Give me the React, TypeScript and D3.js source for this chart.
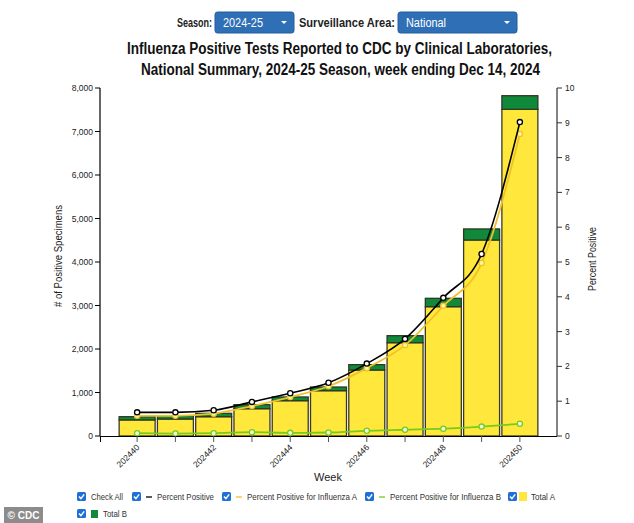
import * as d3 from "d3";

// week labels and counts
const weeks = ["202440", "202441", "202442", "202443", "202444", "202445", "202446", "202447", "202448", "202449", "202450"];
const totalA = [370, 391, 444, 628, 812, 1042, 1517, 2145, 2973, 4506, 7510];
const totalB = [74, 76, 77, 92, 85, 84, 123, 161, 192, 254, 313];
const pctPositive = [0.68, 0.68, 0.74, 0.98, 1.23, 1.53, 2.08, 2.79, 3.97, 5.23, 9.02];
const pctA = [0.58, 0.58, 0.64, 0.86, 1.12, 1.43, 1.95, 2.61, 3.74, 4.97, 8.68];
const pctB = [0.08, 0.07, 0.08, 0.11, 0.09, 0.1, 0.15, 0.18, 0.21, 0.27, 0.35];
const leftTicks = [0, 1000, 2000, 3000, 4000, 5000, 6000, 7000, 8000];
const rightTicks = [0, 1, 2, 3, 4, 5, 6, 7, 8, 9, 10];

const W = 634;
const H = 523;
const font = "'Liberation Sans', Arial, sans-serif";

const YELLOW = "#ffe73c";
const GREEN = "#10893a";
const LINE_A = "#f0c22a";
const LINE_B = "#74cc1f";
const BLUE = "#2f6fb5";

// text squeezed to the width measured on the reference
const Fit = ({ x, y, len, size, children, bold, fill = "#222", anchor = "start" }: any) => (
  <text
    x={x}
    y={y}
    fontSize={size}
    fontWeight={bold ? "bold" : "normal"}
    fill={fill}
    textAnchor={anchor}
    textLength={len}
    lengthAdjust="spacingAndGlyphs"
  >
    {children}
  </text>
);

const Checkbox = ({ x, y }: { x: number; y: number }) => (
  <g transform={`translate(${x},${y})`}>
    <rect width={9} height={9} rx={1.5} fill="#1f6fd6" />
    <path d="M2 4.6 L3.9 6.6 L7.2 2.4" fill="none" stroke="#fff" strokeWidth={1.5} />
  </g>
);

const Dropdown = ({ x, w, label, len }: { x: number; w: number; label: string; len: number }) => (
  <g>
    <rect x={x} y={12} width={w} height={21} rx={2.5} fill={BLUE} stroke="#255c9c" />
    <Fit x={x + 8} y={27} size={12} len={len} fill="#fff">{label}</Fit>
    <path d={`M${x + w - 13} ${21} l6 0 l-3 3 z`} fill="#fff" />
  </g>
);

const App = () => {
  const x = d3.scaleBand<string>().domain(weeks).range([100, 557]).paddingInner(0.06).paddingOuter(0.5);
  const yL = d3.scaleLinear().domain([0, 8000]).range([436, 88]);
  const yR = d3.scaleLinear().domain([0, 10]).range([436, 88]);
  const cx = (i: number) => (x(weeks[i]) ?? 0) + x.bandwidth() / 2;

  const line = d3
    .line<number>()
    .x((_, i) => cx(i))
    .y((d) => yR(d))
    .curve(d3.curveMonotoneX);

  const series = [
    { values: pctB, color: LINE_B, fill: "#f4ffe8" },
    { values: pctA, color: LINE_A, fill: "#fff6a0" },
    { values: pctPositive, color: "#000", fill: "#fff" },
  ];

  return (
    <svg width={W} height={H} style={{ position: "absolute", left: 0, top: 0 }} fontFamily={font}>
      <rect width={W} height={H} fill="#fff" />

      {/* selectors */}
      <Fit x={177} y={27} size={12} len={35} bold>Season:</Fit>
      <Dropdown x={215} w={79} label="2024-25" len={40} />
      <Fit x={299} y={27} size={12} len={96} bold>Surveillance Area:</Fit>
      <Dropdown x={398} w={119} label="National" len={40} />

      {/* title */}
      <Fit x={127} y={54} size={16} len={425} bold fill="#111">
        Influenza Positive Tests Reported to CDC by Clinical Laboratories,
      </Fit>
      <Fit x={141} y={75} size={16} len={399} bold fill="#111">
        National Summary, 2024-25 Season, week ending Dec 14, 2024
      </Fit>

      {/* bars */}
      {weeks.map((w, i) => {
        const bx = x(w) ?? 0;
        const a = totalA[i];
        const b = totalB[i];
        return (
          <g key={w}>
            <rect x={bx} y={yL(a)} width={x.bandwidth()} height={yL(0) - yL(a)} fill={YELLOW} stroke="#3b3a22" strokeWidth={1.3} />
            <rect x={bx} y={yL(a + b)} width={x.bandwidth()} height={yL(a) - yL(a + b)} fill={GREEN} stroke="#2d3a22" strokeWidth={1.3} />
          </g>
        );
      })}

      {/* lines */}
      {series.map((s, k) => (
        <g key={k}>
          <path d={line(s.values) ?? ""} fill="none" stroke={s.color} strokeWidth={k === 2 ? 1.6 : 1.8} />
          {s.values.map((v, i) => (
            <circle key={i} cx={cx(i)} cy={yR(v)} r={2.6} fill={s.fill} stroke={s.color} strokeWidth={1.3} />
          ))}
        </g>
      ))}

      {/* left axis */}
      <line x1={100} x2={100} y1={88} y2={436} stroke="#000" strokeWidth={1.2} />
      {leftTicks.map((t) => (
        <g key={t} transform={`translate(100,${yL(t)})`}>
          <line x1={-5} x2={0} stroke="#000" />
          <text x={-7} y={3} fontSize={8.5} textAnchor="end" fill="#222">{d3.format(",")(t)}</text>
        </g>
      ))}
      <g transform="translate(62,256) rotate(-90)">
        <Fit x={-51} y={0} size={10} len={102}># of Positive Specimens</Fit>
      </g>

      {/* right axis */}
      <line x1={557} x2={557} y1={88} y2={436} stroke="#777" strokeWidth={1.8} />
      {rightTicks.map((t) => (
        <g key={t} transform={`translate(557,${yR(t)})`}>
          <line x1={0} x2={5} stroke="#333" />
          <text x={8} y={3} fontSize={8.5} fill="#222">{t}</text>
        </g>
      ))}
      <g transform="translate(596,259) rotate(-90)">
        <Fit x={-32} y={0} size={10} len={64}>Percent Positive</Fit>
      </g>

      {/* x axis */}
      <line x1={100} x2={557} y1={436.5} y2={436.5} stroke="#000" strokeWidth={1.2} />
      <line x1={100.5} x2={100.5} y1={436} y2={442} stroke="#000" />
      {weeks.map((w, i) => (
        <g key={w} transform={`translate(${cx(i)},436)`}>
          <line y1={0} y2={6} stroke="#555" />
          {i % 2 === 0 && (
            <text transform="translate(3,12) rotate(-45)" fontSize={8.5} textAnchor="end" fill="#222">{w}</text>
          )}
        </g>
      ))}
      <text x={328} y={481} fontSize={11} textAnchor="middle" fill="#222">Week</text>

      {/* legend */}
      <g>
        <Checkbox x={77} y={492} />
        <Fit x={91} y={500} size={9.5} len={32} fill="#333">Check All</Fit>
        <Checkbox x={132} y={492} />
        <line x1={146} x2={152} y1={497} y2={497} stroke="#000" strokeWidth={1.3} />
        <Fit x={157} y={500} size={9.5} len={57} fill="#333">Percent Positive</Fit>
        <Checkbox x={222} y={492} />
        <line x1={236} x2={242} y1={497} y2={497} stroke={LINE_A} strokeWidth={1.3} />
        <Fit x={247} y={500} size={9.5} len={110} fill="#333">Percent Positive for Influenza A</Fit>
        <Checkbox x={365} y={492} />
        <line x1={379} x2={385} y1={497} y2={497} stroke={LINE_B} strokeWidth={1.3} />
        <Fit x={390} y={500} size={9.5} len={111} fill="#333">Percent Positive for Influenza B</Fit>
        <Checkbox x={508} y={492} />
        <rect x={519} y={492} width={8} height={9} fill={YELLOW} />
        <Fit x={531} y={500} size={9.5} len={24} fill="#333">Total A</Fit>
        <Checkbox x={77} y={509} />
        <rect x={91} y={510} width={7} height={8} fill={GREEN} />
        <Fit x={103} y={517} size={9.5} len={24} fill="#333">Total B</Fit>
      </g>

      {/* watermark */}
      <rect x={4} y={507} width={39} height={16} fill="#8c8c8c" />
      <text x={23.5} y={519} fontSize={10} textAnchor="middle" fill="#fff" fontWeight="bold">© CDC</text>
    </svg>
  );
};

export default App;
